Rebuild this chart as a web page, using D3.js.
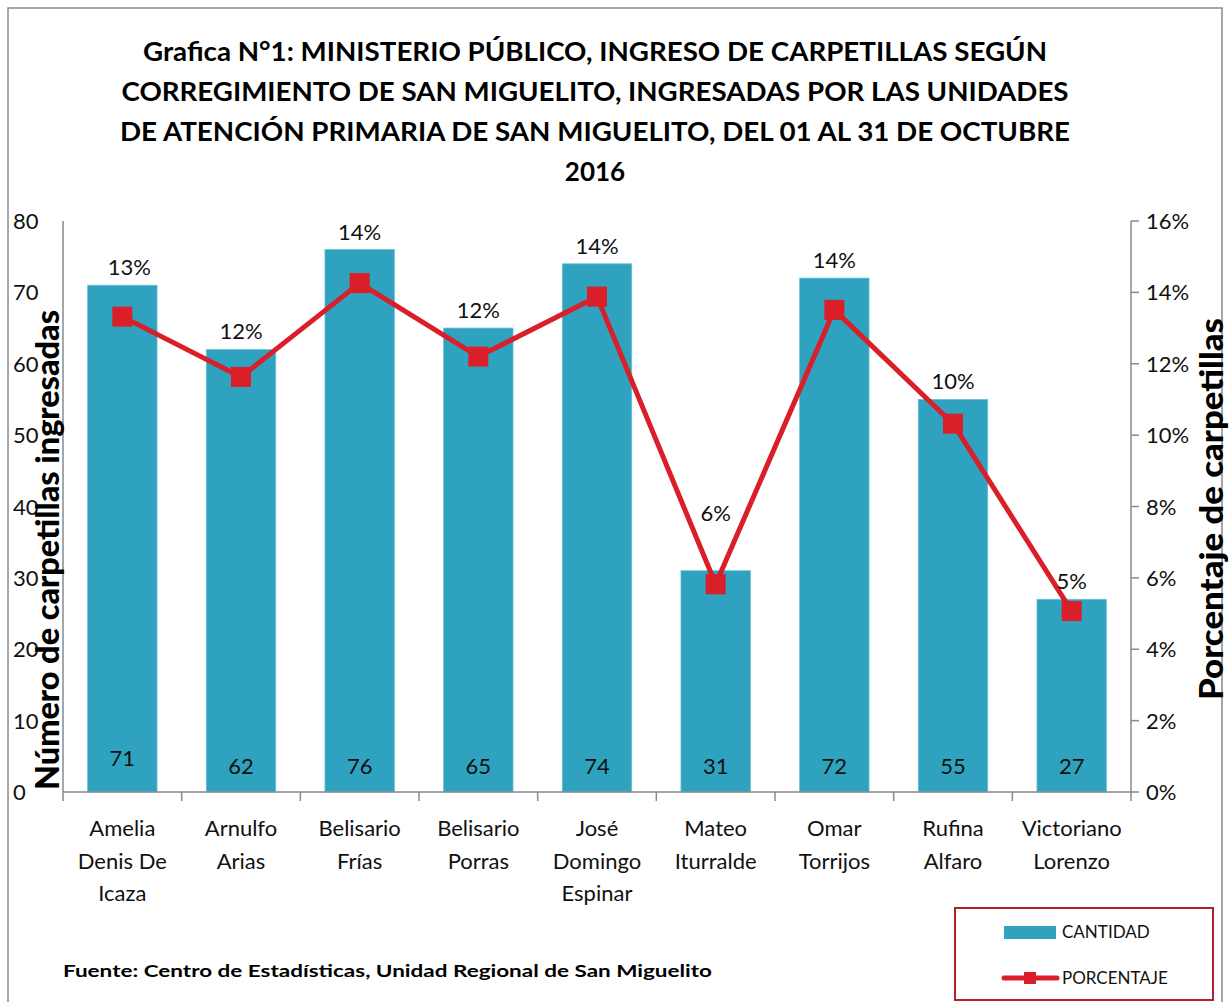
<!DOCTYPE html>
<html><head><meta charset="utf-8">
<script src="https://cdn.jsdelivr.net/npm/d3@7"></script>
<style>
html,body{margin:0;padding:0;background:#fff;}
svg{display:block;}
</style></head>
<body>
<svg id="chart" width="1230" height="1002"></svg>
<script>
const titleLines = [
  "Grafica N°1: MINISTERIO PÚBLICO, INGRESO DE CARPETILLAS SEGÚN",
  "CORREGIMIENTO DE SAN MIGUELITO, INGRESADAS POR LAS UNIDADES",
  "DE ATENCIÓN PRIMARIA DE SAN MIGUELITO, DEL 01 AL 31 DE OCTUBRE",
  "2016"
];
const categories = [
  "Amelia Denis De Icaza", "Arnulfo Arias", "Belisario Frías", "Belisario Porras",
  "José Domingo Espinar", "Mateo Iturralde", "Omar Torrijos", "Rufina Alfaro", "Victoriano Lorenzo"
];
const categoryLines = [
  ["Amelia", "Denis De", "Icaza"], ["Arnulfo", "Arias"], ["Belisario", "Frías"], ["Belisario", "Porras"],
  ["José", "Domingo", "Espinar"], ["Mateo", "Iturralde"], ["Omar", "Torrijos"], ["Rufina", "Alfaro"], ["Victoriano", "Lorenzo"]
];
const cantidad = [71, 62, 76, 65, 74, 31, 72, 55, 27];
const porcentaje = [13.32, 11.63, 14.26, 12.20, 13.88, 5.82, 13.51, 10.32, 5.07];
const leftTicks = [0, 10, 20, 30, 40, 50, 60, 70, 80];
const rightTicks = [0, 2, 4, 6, 8, 10, 12, 14, 16];
const leftTitle = "Número de carpetillas  ingresadas";
const rightTitle = "Porcentaje de carpetillas";
const legendLabels = ["CANTIDAD", "PORCENTAJE"];
const sourceNote = "Fuente: Centro de Estadísticas, Unidad Regional de San Miguelito";

const FONT = "Lato, 'Open Sans', sans-serif";
const BAR = "#2ea2bf", LINE = "#da1f29", AXIS = "#8a8a8a";
const svg = d3.select("#chart");

// outer frame
svg.append("rect").attr("x", 8).attr("y", 8).attr("width", 1214).attr("height", 996)
  .attr("fill", "none").attr("stroke", AXIS).attr("stroke-width", 1.5);

// title
const titleW = [904, 947, 950, null];
svg.append("g").selectAll("text").data(titleLines).join("text")
  .attr("x", 595).attr("y", (d, i) => 61 + i * 40)
  .attr("text-anchor", "middle")
  .attr("font-family", FONT).attr("font-weight", "bold").attr("font-size", 26)
  .attr("fill", "#000")
  .each(function(d, i){ if (titleW[i]) d3.select(this).attr("textLength", titleW[i]).attr("lengthAdjust", "spacingAndGlyphs"); })
  .text(d => d);

const x0 = 63, x1 = 1131, yTop = 221, yBot = 792;
const x = d3.scaleBand().domain(categories).range([x0, x1]).paddingInner(0.415).paddingOuter(0.2075);
const y = d3.scaleLinear().domain([0, 80]).range([yBot, yTop]);
const yP = d3.scaleLinear().domain([0, 16]).range([yBot, yTop]);
const cx = c => x(c) + x.bandwidth() / 2;

// bars
svg.append("g").selectAll("rect").data(cantidad).join("rect")
  .attr("x", (d, i) => x(categories[i]))
  .attr("y", d => y(d))
  .attr("width", x.bandwidth())
  .attr("height", d => y(0) - y(d))
  .attr("fill", BAR).attr("stroke", "#6cc0d6").attr("stroke-width", 0.8);

// bar value labels (inside base)
svg.append("g").selectAll("text").data(cantidad).join("text")
  .attr("x", (d, i) => cx(categories[i]))
  .attr("y", (d, i) => y(0) - (i === 0 ? 26 : 18))
  .attr("text-anchor", "middle")
  .attr("font-family", FONT).attr("font-size", 22).attr("fill", "#111")
  .text(d => d);

// axes
const ax = svg.append("g").attr("stroke", AXIS).attr("stroke-width", 1.5);
ax.append("line").attr("x1", x0).attr("x2", x0).attr("y1", yTop).attr("y2", yBot);
ax.append("line").attr("x1", x1).attr("x2", x1).attr("y1", yTop).attr("y2", yBot);
ax.append("line").attr("x1", x0).attr("x2", x1).attr("y1", yBot).attr("y2", yBot);
const bounds = categories.map(c => x(c) - x.step() * x.paddingInner() / 2).concat([x1]);
ax.selectAll(".xt").data(bounds).join("line")
  .attr("x1", d => d).attr("x2", d => d).attr("y1", yBot).attr("y2", yBot + 9);
ax.selectAll(".rt").data(rightTicks).join("line")
  .attr("x1", x1).attr("x2", x1 + 8).attr("y1", d => yP(d)).attr("y2", d => yP(d));

// left tick labels
svg.append("g").selectAll("text").data(leftTicks).join("text")
  .attr("x", 13).attr("y", d => y(d) + 8)
  .attr("font-family", FONT).attr("font-size", 22).attr("fill", "#111")
  .text(d => d);
// right tick labels
svg.append("g").selectAll("text").data(rightTicks).join("text")
  .attr("x", 1146).attr("y", d => yP(d) + 8)
  .attr("font-family", FONT).attr("font-size", 22).attr("fill", "#111")
  .text(d => d + "%");

// x category labels
const xl = svg.append("g");
categoryLines.forEach((lines, i) => {
  xl.append("text").attr("text-anchor", "middle")
    .attr("font-family", FONT).attr("font-size", 22).attr("fill", "#111")
    .selectAll("tspan").data(lines).join("tspan")
    .attr("x", cx(categories[i])).attr("y", (d, j) => 836 + j * 32.5).text(d => d);
});

// axis titles
svg.append("text").attr("transform", "translate(59,550) rotate(-90)")
  .attr("text-anchor", "middle").attr("font-family", FONT).attr("font-weight", "900")
  .attr("font-size", 32).attr("fill", "#000")
  .attr("textLength", 480).attr("lengthAdjust", "spacingAndGlyphs").text(leftTitle);
svg.append("text").attr("transform", "translate(1223,509) rotate(-90)")
  .attr("text-anchor", "middle").attr("font-family", FONT).attr("font-weight", "900")
  .attr("font-size", 32).attr("fill", "#000")
  .attr("textLength", 382).attr("lengthAdjust", "spacingAndGlyphs").text(rightTitle);

// line
const lineGen = d3.line().x((d, i) => cx(categories[i])).y(d => yP(d));
svg.append("path").datum(porcentaje).attr("d", lineGen)
  .attr("fill", "none").attr("stroke", LINE).attr("stroke-width", 5).attr("stroke-linejoin", "round");
svg.append("g").selectAll("rect").data(porcentaje).join("rect")
  .attr("x", (d, i) => cx(categories[i]) - 10).attr("y", d => yP(d) - 10)
  .attr("width", 20).attr("height", 20).attr("fill", LINE);

// percentage labels
const nudge = {0: 7};
svg.append("g").selectAll("text").data(porcentaje).join("text")
  .attr("x", (d, i) => cx(categories[i]) + (nudge[i] || 0))
  .attr("y", (d, i) => (i === 5 ? y(cantidad[i]) - 58 : y(cantidad[i]) - 18) + 8)
  .attr("text-anchor", "middle")
  .attr("font-family", FONT).attr("font-size", 22).attr("fill", "#111")
  .text(d => Math.round(d) + "%");

// legend
const lg = svg.append("g");
lg.append("rect").attr("x", 955).attr("y", 908).attr("width", 258).attr("height", 92)
  .attr("fill", "#fff").attr("stroke", "#b0222c").attr("stroke-width", 2);
lg.append("rect").attr("x", 1004).attr("y", 926).attr("width", 52).attr("height", 13).attr("fill", BAR);
lg.append("line").attr("x1", 1004).attr("x2", 1057).attr("y1", 978).attr("y2", 978)
  .attr("stroke", LINE).attr("stroke-width", 5).attr("stroke-linecap", "round");
lg.append("rect").attr("x", 1024).attr("y", 972).attr("width", 12).attr("height", 12).attr("fill", LINE);
lg.selectAll("text").data(legendLabels).join("text")
  .attr("x", 1062).attr("y", (d, i) => 938 + i * 46)
  .attr("font-family", FONT).attr("font-size", 17).attr("fill", "#111").text(d => d);

// source
svg.append("text").attr("x", 63).attr("y", 977)
  .attr("font-family", FONT).attr("font-weight", "bold").attr("font-size", 17)
  .attr("textLength", 649).attr("lengthAdjust", "spacingAndGlyphs")
  .attr("fill", "#000").text(sourceNote);
</script>
</body></html>
